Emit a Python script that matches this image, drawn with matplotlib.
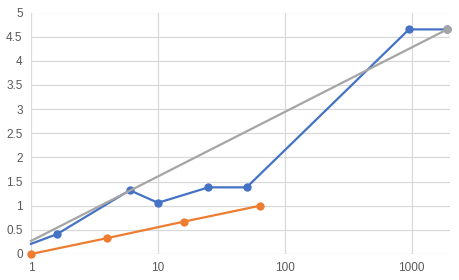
import matplotlib
matplotlib.use("Agg")
import matplotlib.pyplot as plt
from matplotlib.ticker import FixedLocator, FixedFormatter, NullLocator

blue_x = [1, 1.6, 6, 10, 25, 50, 950, 1900]
blue_y = [0.21, 0.41, 1.32, 1.06, 1.38, 1.38, 4.65, 4.65]
orange_x = [1, 4, 16, 64]
orange_y = [0, 0.33, 0.67, 1.0]
gray_x = [1, 1900]
gray_y = [0.27, 4.65]
x_ticks = [1, 10, 100, 1000]
x_labels = ["1", "10", "100", "1000"]
y_ticks = [0, 0.5, 1, 1.5, 2, 2.5, 3, 3.5, 4, 4.5, 5]
y_labels = ["0", "0.5", "1", "1.5", "2", "2.5", "3", "3.5", "4", "4.5", "5"]

plt.rcParams['font.family'] = ['Liberation Sans', 'DejaVu Sans']
fig = plt.figure(figsize=(4.59, 2.8), dpi=100)
ax = fig.add_axes([31/459, 1-254/280, (450-31)/459, (254-12.5)/280])

ax.plot(blue_x, blue_y, color="#4472C4", lw=1.6, marker="o", ms=5, markevery=list(range(1, len(blue_x))), zorder=3, clip_on=False)
ax.plot(orange_x, orange_y, color="#ED7D31", lw=1.6, marker="o", ms=5, zorder=3, clip_on=False)
ax.plot(gray_x, gray_y, color="#A5A5A5", lw=1.6, marker="o", ms=5, markevery=[1], zorder=4, clip_on=False)

ax.set_xscale("log")
ax.set_xlim(1, 2000)
ax.set_ylim(0, 5)
ax.xaxis.set_major_locator(FixedLocator(x_ticks))
ax.xaxis.set_major_formatter(FixedFormatter(x_labels))
ax.xaxis.set_minor_locator(NullLocator())
ax.set_yticks(y_ticks)
ax.set_yticklabels(y_labels)
ax.grid(True, color="#D9D9D9", lw=0.9)
ax.set_axisbelow(True)
for s in ax.spines.values():
    s.set_visible(False)
ax.tick_params(length=0, labelsize=8.5, labelcolor="#595959", pad=6)
fig.savefig("out.png", dpi=100)
